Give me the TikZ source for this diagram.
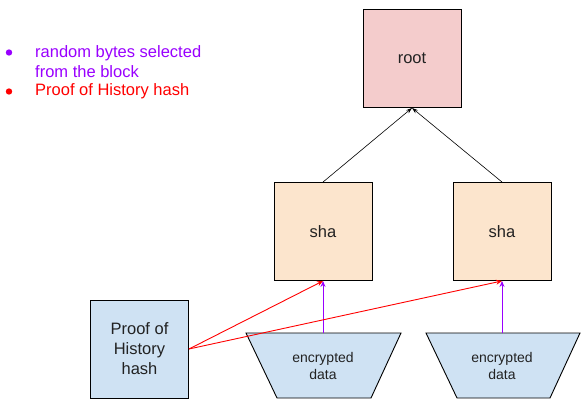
\documentclass[tikz,border=0pt]{standalone}
\usepackage{fontspec}
\setmainfont{Liberation Sans}
\usetikzlibrary{arrows.meta}
\definecolor{rootfill}{HTML}{F4CCCC}
\definecolor{shafill}{HTML}{FCE5CD}
\definecolor{bluefill}{HTML}{CFE2F3}
\definecolor{legpurple}{HTML}{9900FF}
\definecolor{legred}{HTML}{FF0000}
\definecolor{txt}{HTML}{222222}
\tikzset{
  box/.style={draw=black, line width=0.9pt, minimum width=98pt, minimum height=98pt, inner sep=0pt, text=txt, font=\fontsize{16.5}{20}\selectfont, align=center},
  tree/.style={draw=black, line width=0.6pt, -{Stealth[length=6pt,width=4pt]}},
  sel/.style={draw=legpurple, line width=0.9pt, -{Stealth[length=6pt,width=5pt]}},
  poh/.style={draw=legred, line width=0.9pt, -{Stealth[length=6pt,width=5pt]}},
  trap/.style={draw=black, line width=0.9pt, fill=bluefill},
  traptext/.style={text=txt, font=\fontsize{14}{17}\selectfont, align=center},
  legend/.style={font=\fontsize{16.5}{19.5}\selectfont, align=left, anchor=west, inner sep=0pt}
}
\begin{document}
\begin{tikzpicture}[x=1pt,y=-1pt]
\useasboundingbox (0,0) rectangle (586,404);
% legend
\fill[legpurple] (9,52.5) circle (3.2);
\fill[legred] (9,91.5) circle (3.2);
\node[legend, text=legpurple] (leg1) at (35,61.5) {random bytes selected\\from the block};
\node[legend, text=legred] (leg2) at (35,91) {Proof of History hash};
% boxes
\node[box, fill=rootfill] (root) at (412,58.5) {root};
\node[box, fill=shafill] (shaL) at (323,231.5) {sha};
\node[box, fill=shafill] (shaR) at (502,231.5) {sha};
\node[box, fill=bluefill] (poh) at (139.5,349) {Proof of\\History\\hash};
% trapezoids
\draw[trap] (246,333) -- (401,333) -- (371,398) -- (277,398) -- cycle;
\draw[trap] (426,333) -- (580,333) -- (550,398) -- (457,398) -- cycle;
\coordinate (encL) at (323,333);
\coordinate (encR) at (502,333);
\node[traptext] (encLt) at (323,366) {encrypted\\data};
\node[traptext] (encRt) at (502,366) {encrypted\\data};
% connectors
\draw[tree] (shaL.north) -- (root.south);
\draw[tree] (shaR.north) -- (root.south);
\draw[sel] (encL) -- (shaL.south);
\draw[sel] (encR) -- (shaR.south);
\draw[poh] (poh.east) -- (shaL.south);
\draw[poh] (poh.east) -- (shaR.south);
\end{tikzpicture}
\end{document}
